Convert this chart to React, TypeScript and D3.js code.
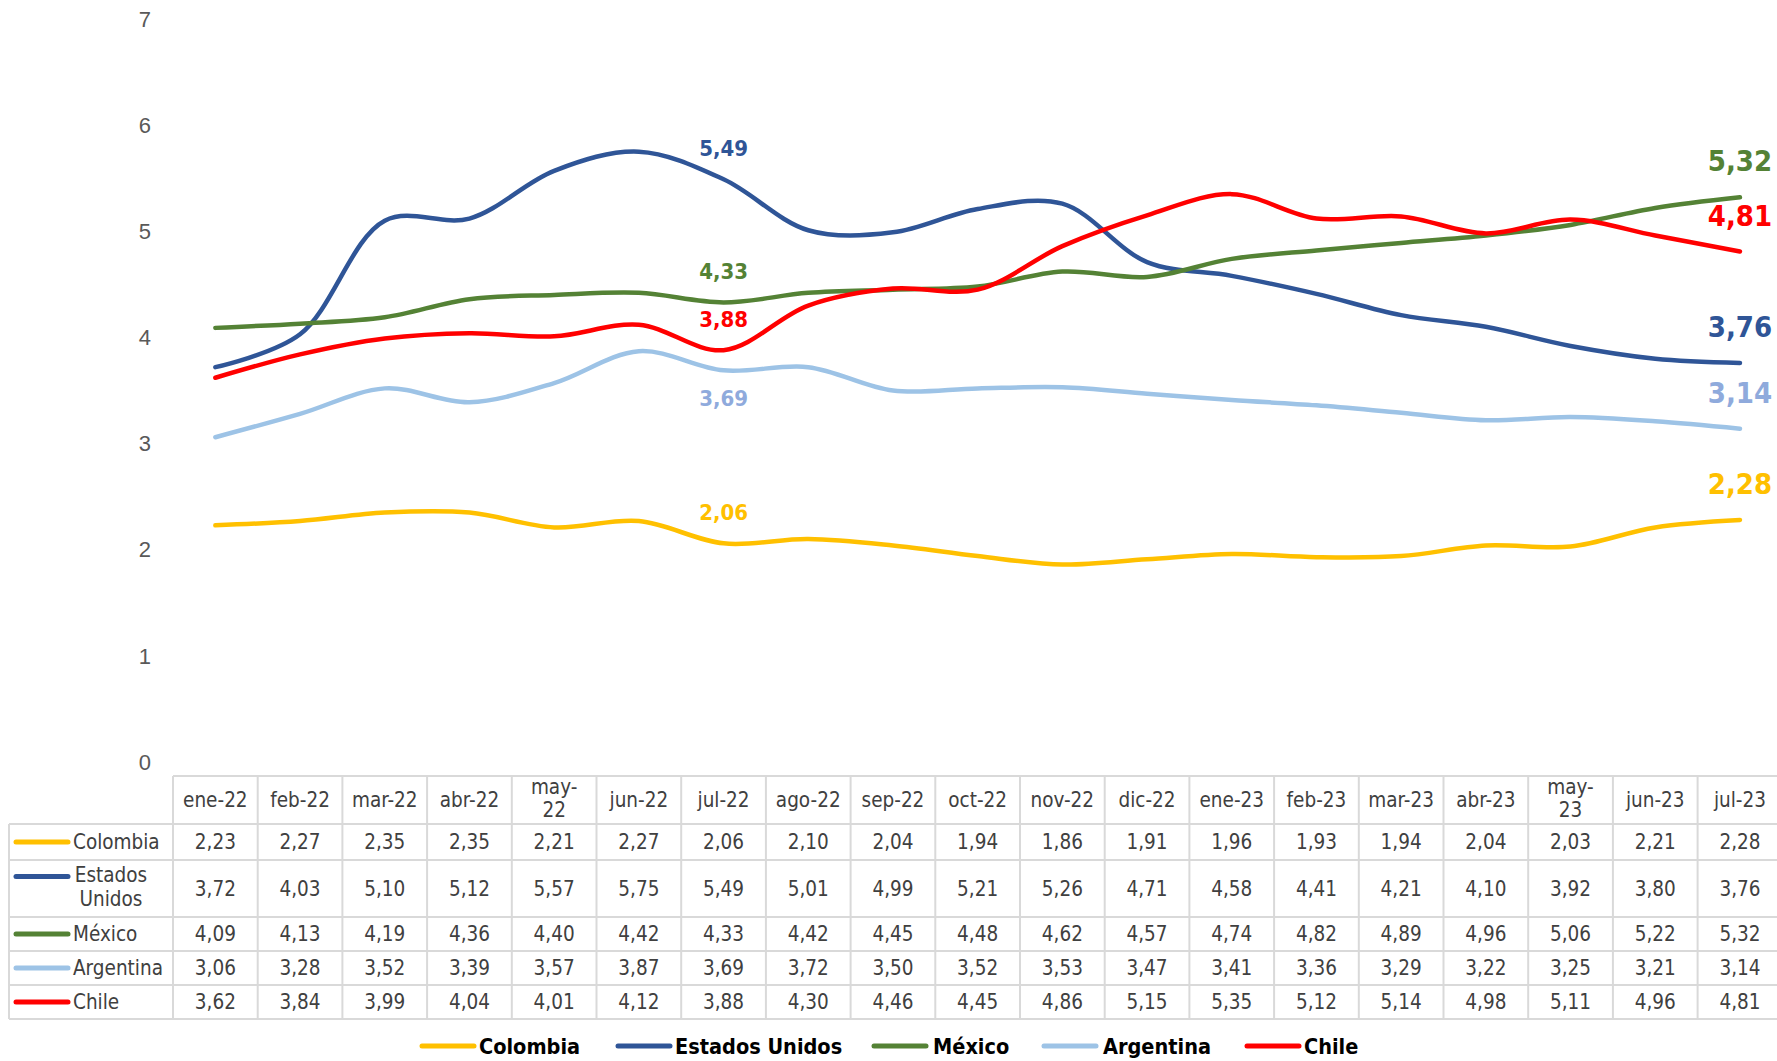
import * as d3 from "d3";

const W = 1777;
const H = 1061;

const months = ["ene-22", "feb-22", "mar-22", "abr-22", "may-22", "jun-22", "jul-22", "ago-22", "sep-22", "oct-22", "nov-22", "dic-22", "ene-23", "feb-23", "mar-23", "abr-23", "may-23", "jun-23", "jul-23"];

const colombia = [2.23, 2.27, 2.35, 2.35, 2.21, 2.27, 2.06, 2.10, 2.04, 1.94, 1.86, 1.91, 1.96, 1.93, 1.94, 2.04, 2.03, 2.21, 2.28];
const estadosUnidos = [3.72, 4.03, 5.10, 5.12, 5.57, 5.75, 5.49, 5.01, 4.99, 5.21, 5.26, 4.71, 4.58, 4.41, 4.21, 4.10, 3.92, 3.80, 3.76];
const mexico = [4.09, 4.13, 4.19, 4.36, 4.40, 4.42, 4.33, 4.42, 4.45, 4.48, 4.62, 4.57, 4.74, 4.82, 4.89, 4.96, 5.06, 5.22, 5.32];
const argentina = [3.06, 3.28, 3.52, 3.39, 3.57, 3.87, 3.69, 3.72, 3.50, 3.52, 3.53, 3.47, 3.41, 3.36, 3.29, 3.22, 3.25, 3.21, 3.14];
const chile = [3.62, 3.84, 3.99, 4.04, 4.01, 4.12, 3.88, 4.30, 4.46, 4.45, 4.86, 5.15, 5.35, 5.12, 5.14, 4.98, 5.11, 4.96, 4.81];

const yTicks = [0, 1, 2, 3, 4, 5, 6, 7];

const series = [
  { name: "Colombia", lines: ["Colombia"], values: colombia, color: "#FFC000", labelColor: "#FFC000", midBelow: false },
  { name: "Estados Unidos", lines: ["Estados", "Unidos"], values: estadosUnidos, color: "#2F5597", labelColor: "#2F5597", midBelow: false },
  { name: "México", lines: ["México"], values: mexico, color: "#548235", labelColor: "#548235", midBelow: false },
  { name: "Argentina", lines: ["Argentina"], values: argentina, color: "#9DC3E6", labelColor: "#8FAADC", midBelow: true },
  { name: "Chile", lines: ["Chile"], values: chile, color: "#FF0000", labelColor: "#FF0000", midBelow: false },
];

const midIdx = 6;
const lastIdx = months.length - 1;

const tableFont = "'DejaVu Sans Condensed', 'DejaVu Sans', sans-serif";
const gridColor = "#D9D9D9";
const textColor = "#404040";

const fmt = (v: number) => v.toFixed(2).replace(".", ",");

export default function App() {
  // table geometry
  const tableLeft = 173;
  const x = d3.scaleBand<string>().domain(months).range([tableLeft, tableLeft + 84.7 * months.length]).padding(0);
  const cx = (m: string) => (x(m) as number) + x.bandwidth() / 2;

  const y = d3.scaleLinear().domain([0, 7]).range([762, 19]);

  const line = d3
    .line<number>()
    .x((_, i) => cx(months[i]))
    .y((d) => y(d))
    .curve(d3.curveCatmullRom.alpha(0.5));

  // row edges: header, then each series
  const rowEdges = [776, 824, 860, 917, 951, 985, 1019];
  const headerMid = (rowEdges[0] + rowEdges[1]) / 2;

  const legendY = 1046;
  const legendItems = [
    { lx: 422, tx: 479 },
    { lx: 618, tx: 675 },
    { lx: 874, tx: 933 },
    { lx: 1044, tx: 1103 },
    { lx: 1247, tx: 1304 },
  ];

  return (
    <svg width={W} height={H} style={{ position: "absolute", left: 0, top: 0, display: "block", background: "#fff" }}>
      {/* y axis labels */}
      {yTicks.map((t) => (
        <text key={t} x={151} y={y(t)} dy="0.35em" textAnchor="end" fontFamily="'Liberation Sans', Arial, sans-serif" fontSize={22} fill="#595959">
          {t}
        </text>
      ))}

      {/* lines */}
      {series.map((s) => (
        <path key={s.name} d={line(s.values) as string} fill="none" stroke={s.color} strokeWidth={4.5} strokeLinecap="round" strokeLinejoin="round" />
      ))}

      {/* data labels */}
      {series.map((s) => (
        <g key={s.name + "-lbl"} fontFamily={tableFont} fontWeight="bold" fill={s.labelColor} textAnchor="middle">
          <text x={cx(months[midIdx])} y={y(s.values[midIdx]) + (s.midBelow ? 28 : -31)} dy="0.35em" fontSize={22}>
            {fmt(s.values[midIdx])}
          </text>
          <text x={cx(months[lastIdx])} y={y(s.values[lastIdx]) - 36} dy="0.35em" fontSize={29}>
            {fmt(s.values[lastIdx])}
          </text>
        </g>
      ))}

      {/* table grid */}
      <g stroke={gridColor} strokeWidth={2}>
        <line x1={tableLeft} x2={W} y1={rowEdges[0]} y2={rowEdges[0]} />
        {rowEdges.slice(1).map((r) => (
          <line key={r} x1={9} x2={W} y1={r} y2={r} />
        ))}
        <line x1={9} x2={9} y1={rowEdges[1]} y2={rowEdges[rowEdges.length - 1]} />
        {months.map((m) => (
          <line key={m} x1={x(m) as number} x2={x(m) as number} y1={rowEdges[0]} y2={rowEdges[rowEdges.length - 1]} />
        ))}
      </g>

      {/* header */}
      <g fontFamily={tableFont} fontSize={20.5} fill={textColor} textAnchor="middle">
        {months.map((m) =>
          m.startsWith("may") ? (
            <text key={m} x={cx(m)} y={headerMid} dy="0.35em">
              <tspan x={cx(m)} dy="-0.3em">{m.slice(0, 4)}</tspan>
              <tspan x={cx(m)} dy="1.15em">{m.slice(4)}</tspan>
            </text>
          ) : (
            <text key={m} x={cx(m)} y={headerMid} dy="0.35em">
              {m}
            </text>
          )
        )}
      </g>

      {/* rows */}
      {series.map((s, i) => {
        const top = rowEdges[i + 1];
        const bottom = rowEdges[i + 2];
        const mid = (top + bottom) / 2;
        return (
          <g key={s.name + "-row"} fontFamily={tableFont} fontSize={20.5} fill={textColor}>
            <line x1={16} x2={68} y1={s.lines.length > 1 ? mid - 12 : mid} y2={s.lines.length > 1 ? mid - 12 : mid} stroke={s.color} strokeWidth={5} strokeLinecap="round" />
            {s.lines.length > 1 ? (
              <text x={111} y={mid} textAnchor="middle">
                <tspan x={111} dy="-0.3em">{s.lines[0]}</tspan>
                <tspan x={111} dy="1.15em">{s.lines[1]}</tspan>
              </text>
            ) : (
              <text x={73} y={mid} dy="0.35em">
                {s.lines[0]}
              </text>
            )}
            {s.values.map((v, j) => (
              <text key={j} x={cx(months[j])} y={mid} dy="0.35em" textAnchor="middle">
                {fmt(v)}
              </text>
            ))}
          </g>
        );
      })}

      {/* legend */}
      {series.map((s, i) => (
        <g key={s.name + "-leg"}>
          <line x1={legendItems[i].lx} x2={legendItems[i].lx + 52} y1={legendY} y2={legendY} stroke={s.color} strokeWidth={5} strokeLinecap="round" />
          <text x={legendItems[i].tx} y={legendY} dy="0.35em" fontFamily={tableFont} fontWeight="bold" fontSize={21.5} fill="#000">
            {s.name}
          </text>
        </g>
      ))}
    </svg>
  );
}
